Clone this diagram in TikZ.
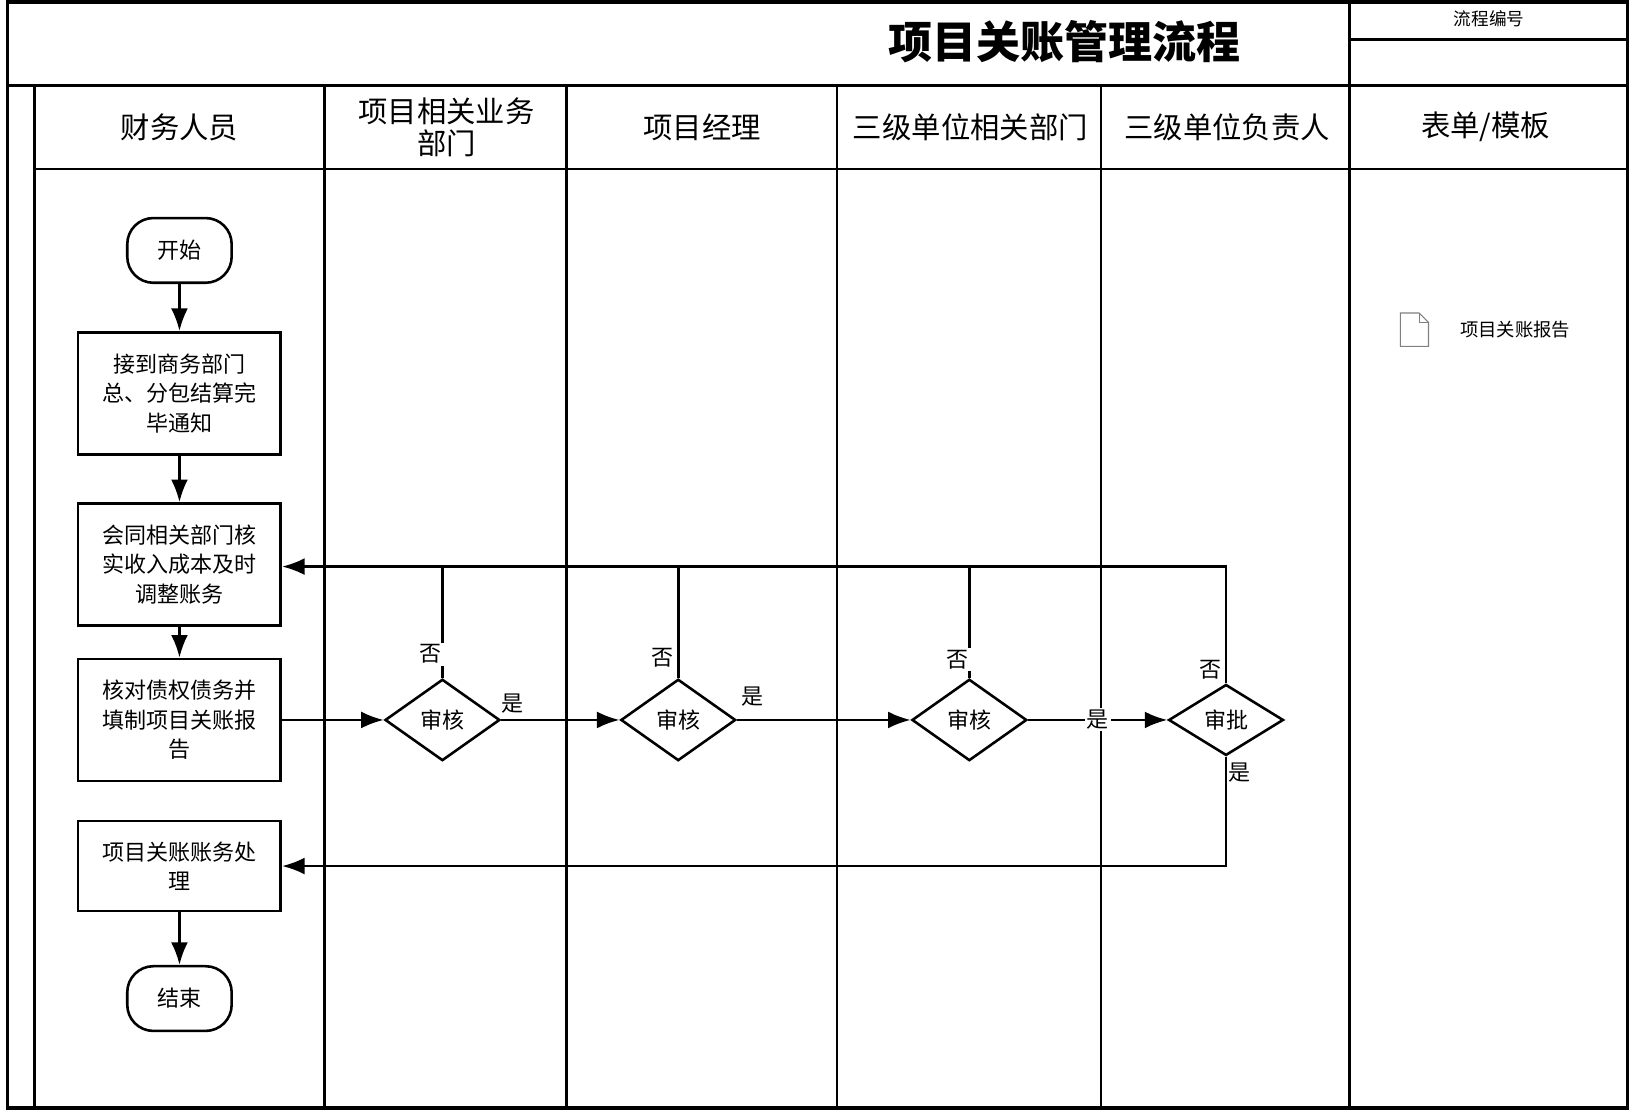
\documentclass[tikz,border=0pt]{standalone}
\usepackage{fontspec}
\setmainfont{Noto Sans CJK SC}
\usetikzlibrary{positioning, shapes.geometric, arrows.meta}

\begin{document}
\begin{tikzpicture}[
    x=0.01cm, y=-0.01cm,
    every node/.style={align=center,font=\fontsize{6}{8}\selectfont},
    >=Latex,
    procbox/.style={draw, line width=0.7pt, minimum width=1.94cm, inner sep=1pt},
    termbox/.style={draw, line width=0.7pt, rounded corners=0.25cm, minimum width=1cm, minimum height=0.62cm},
    decide/.style={draw, line width=0.7pt, diamond, aspect=1.4, minimum width=1.1cm, minimum height=0.78cm, inner sep=0pt},
    flow/.style={line width=0.7pt, ->},
    lbl/.style={font=\fontsize{6}{7}\selectfont, fill=white, inner sep=0.5pt}
]
    \useasboundingbox (0,0) rectangle (1565,1065);

    % frame and lanes
    \draw[line width=0.9pt] (7,2) rectangle (1560,1062);
    \draw[line width=0.9pt] (7,82) -- (1560,82);
    \draw[line width=0.9pt] (1293,2) -- (1293,1062);
    \draw[line width=0.9pt] (1293,38) -- (1560,38);
    \draw[line width=0.7pt] (33,162) -- (1560,162);
    \foreach \xl in {33, 311, 543, 802, 1055}{
        \draw[line width=0.7pt] (\xl,82) -- (\xl,1062);
    }

    \node[font=\fontsize{12}{13}\bfseries] (title) at (1020,40) {项目关账管理流程};
    \node[font=\fontsize{4.8}{6}\selectfont] (code) at (1427,18) {流程编号};

    \foreach \xh/\txt in {
        172/{财务人员},
        428/{项目相关业务\\部门},
        673/{项目经理},
        930/{三级单位相关部门},
        1176/{三级单位负责人},
        1427/{表单/模板}
    }{
        \node[font=\fontsize{8}{8.5}\selectfont] at (\xh,122) {\txt};
    }

    % nodes
    \node[termbox] (start) at (172,240) {开始};
    \node[procbox, minimum height=1.17cm] (notice) at (172,377) {接到商务部门\\总、分包结算完\\毕通知};
    \node[procbox, minimum height=1.17cm] (adjust) at (172,541) {会同相关部门核\\实收入成本及时\\调整账务};
    \node[procbox, minimum height=1.17cm] (report) at (172,690) {核对债权债务并\\填制项目关账报\\告};
    \node[procbox, minimum height=0.86cm] (close) at (172,830) {项目关账账务处\\理};
    \node[termbox] (finish) at (172,957) {结束};

    \node[decide] (chk1) at (424,690) {审核};
    \node[decide] (chk2) at (650,690) {审核};
    \node[decide] (chk3) at (929,690) {审核};
    \node[decide, minimum height=0.68cm] (apv) at (1175,690) {审批};

    \coordinate (back) at (1175,543);
    \coordinate (done) at (1175,830);

    % connectors
    \draw[flow] (start) -- (notice);
    \draw[flow] (notice) -- (adjust);
    \draw[flow] (adjust) -- (report);
    \draw[flow] (close) -- (finish);
    \draw[flow] (report) -- (chk1);
    \draw[flow] (chk1) -- node[lbl, pos=0.1, above=1pt] {是} (chk2);
    \draw[flow] (chk2) -- node[lbl, pos=0.05, above right=0pt and -2pt, yshift=3pt] {是} (chk3);
    \draw[flow] (chk3) -- node[lbl, pos=0.5] {是} (apv);
    \draw[flow] (apv.north) -- (back) -- (adjust.east |- back);
    \foreach \d in {chk1, chk2, chk3}{
        \draw[line width=0.7pt] (\d.north) -- (\d.north |- back);
    }
    \draw[flow] (apv.south) -- (done) -- (close.east |- done);

    \foreach \xn/\yn in {413/627, 635/630, 918/632, 1160/642}{
        \node[lbl] at (\xn,\yn) {否};
    }
    \node[lbl] at (1188,740) {是};

    % form
    \draw[line width=0.3pt, gray] (1342,300) -- (1360,300) -- (1369,309) -- (1369,332) -- (1342,332) -- cycle;
    \draw[line width=0.3pt, gray] (1360,300) -- (1360,309) -- (1369,309);
    \node[font=\fontsize{5}{6}\selectfont] (form) at (1452,316) {项目关账报告};
\end{tikzpicture}
\end{document}
